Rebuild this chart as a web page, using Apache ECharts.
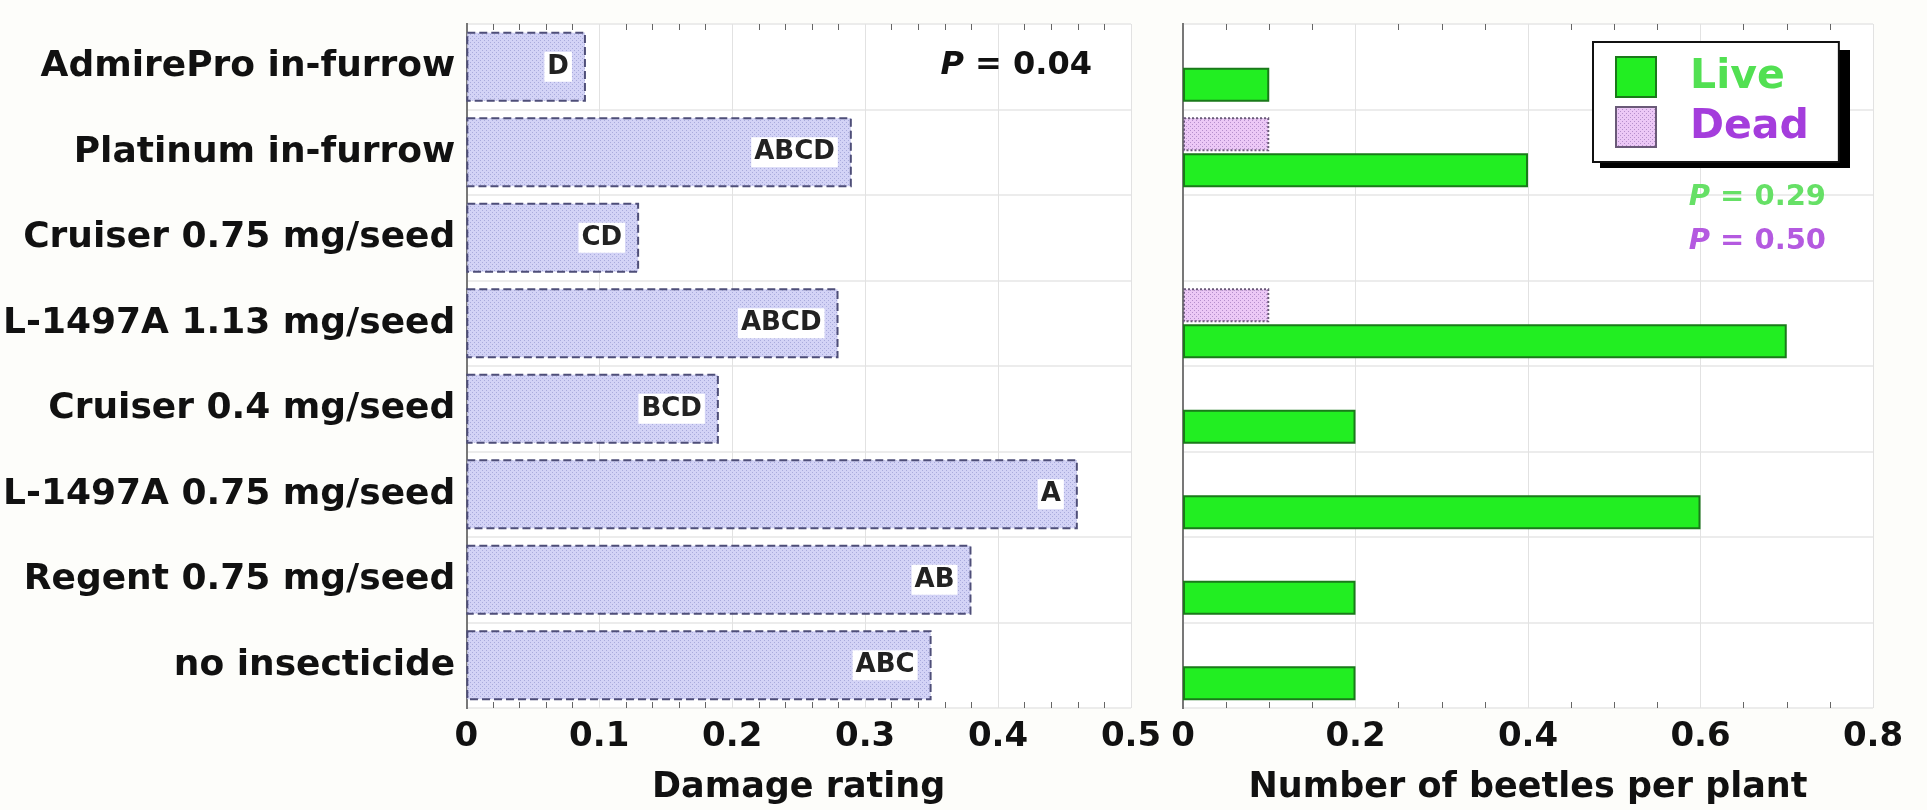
<!DOCTYPE html>
<html>
<head>
<meta charset="utf-8">
<script src="https://cdn.jsdelivr.net/npm/echarts@6/dist/echarts.min.js"></script>
<style>
html,body{margin:0;padding:0;background:#fdfdfa;}
#main{width:1927px;height:810px;}
</style>
</head>
<body>
<div id="main"></div>
<script>
var treatments = ['AdmirePro in-furrow', 'Platinum in-furrow', 'Cruiser 0.75 mg/seed', 'L-1497A 1.13 mg/seed',
                  'Cruiser 0.4 mg/seed', 'L-1497A 0.75 mg/seed', 'Regent 0.75 mg/seed', 'no insecticide'];
var damage = [0.09, 0.29, 0.13, 0.28, 0.19, 0.46, 0.38, 0.35];
var damageLetters = ['D', 'ABCD', 'CD', 'ABCD', 'BCD', 'A', 'AB', 'ABC'];
var beetlesDead = [0, 0.1, 0, 0.1, 0, 0, 0, 0];
var beetlesLive = [0.1, 0.4, 0, 0.7, 0.2, 0.6, 0.2, 0.2];
var damageTicks = [0, 0.1, 0.2, 0.3, 0.4, 0.5];
var beetleTicks = [0, 0.2, 0.4, 0.6, 0.8];

window.onload = function () {
  var chart = echarts.init(document.getElementById('main'));
  var FONT = 'DejaVu Sans';

  // small dotted fill, like the halftone in the scan
  function dots(base, dot) {
    var c = document.createElement('canvas');
    c.width = 4; c.height = 4;
    var g = c.getContext('2d');
    g.fillStyle = base; g.fillRect(0, 0, 4, 4);
    g.fillStyle = dot; g.fillRect(0, 0, 1, 1); g.fillRect(2, 2, 1, 1);
    return { image: c, repeat: 'repeat' };
  }

  // zero counts: keep the value but no outline sliver at the axis
  function noZeroEdge(arr) {
    return arr.map(function (v) {
      return v === 0 ? { value: v, itemStyle: { borderWidth: 0 } } : v;
    });
  }

  function xAxes(grid, ticks, minorSplit, title) {
    var step = ticks[1] - ticks[0];
    var base = { type: 'value', gridIndex: grid, min: ticks[0], max: ticks[ticks.length - 1], interval: step };
    return [
      Object.assign({}, base, {
        position: 'bottom',
        name: title, nameLocation: 'middle', nameGap: 62,
        nameTextStyle: { fontFamily: FONT, fontWeight: 'bold', fontSize: 35, color: '#111' },
        axisLine: { lineStyle: { color: '#777', width: 2 } },
        axisTick: { inside: true, length: 14, lineStyle: { color: '#666', width: 2 } },
        minorTick: { show: true, splitNumber: minorSplit, length: 6, lineStyle: { color: '#666' } },
        axisLabel: { fontFamily: FONT, fontWeight: 'bold', fontSize: 34, color: '#111', margin: 12,
                     formatter: function (v) { return String(+v.toFixed(2)); } },
        splitLine: { show: true, lineStyle: { color: '#e2e2e2', width: 1 } }
      }),
      Object.assign({}, base, {
        position: 'bottom',
        axisLine: { show: false },
        axisTick: { inside: false, length: 9, lineStyle: { color: '#666', width: 2 } },
        axisLabel: { show: false }, splitLine: { show: false }
      }),
      Object.assign({}, base, {
        position: 'top',
        axisLine: { lineStyle: { color: '#777', width: 2 } },
        axisTick: { inside: true, length: 16, lineStyle: { color: '#666', width: 2 } },
        minorTick: { show: true, splitNumber: minorSplit, length: 6, lineStyle: { color: '#666' } },
        axisLabel: { show: false }, splitLine: { show: false }
      }),
      Object.assign({}, base, {
        position: 'top',
        axisLine: { show: false },
        axisTick: { inside: false, length: 11, lineStyle: { color: '#666', width: 2 } },
        axisLabel: { show: false }, splitLine: { show: false }
      })
    ];
  }

  function yAxes(grid, labels) {
    return [
      {
        type: 'category', gridIndex: grid, data: treatments, inverse: true, position: 'left',
        axisLine: { lineStyle: { color: '#555', width: 2 } },
        axisTick: { inside: true, length: 6, lineStyle: { color: '#666' } },
        axisLabel: { show: labels, fontFamily: FONT, fontWeight: 'bold', fontSize: 36, color: '#111', margin: 11 },
        splitLine: { show: true, lineStyle: { color: '#e6e6e6', width: 1.5 } }
      },
      {
        type: 'category', gridIndex: grid, data: treatments, inverse: true, position: 'right',
        axisLine: { lineStyle: { color: '#777', width: 2 } },
        axisTick: { inside: true, length: 10, lineStyle: { color: '#666', width: 2 } },
        axisLabel: { show: false }, splitLine: { show: false }
      }
    ];
  }

  chart.setOption({
    animation: false,
    backgroundColor: '#fdfdfa',
    grid: [
      { left: 466, right: 796, top: 24, bottom: 94, show: true, backgroundColor: '#fff', borderWidth: 0 },
      { left: 1183, right: 54, top: 24, bottom: 102, show: true, backgroundColor: '#fff', borderWidth: 0 }
    ],
    xAxis: xAxes(0, damageTicks, 5, 'Damage rating').concat(xAxes(1, beetleTicks, 4, 'Number of beetles per plant')),
    yAxis: yAxes(0, true).concat(yAxes(1, false)),
    legend: {
      orient: 'vertical', left: 1593, top: 42,
      padding: [14, 30, 14, 22], itemWidth: 40, itemHeight: 40, itemGap: 8,
      icon: 'rect', selectedMode: false, z: 20,
      backgroundColor: '#fff', borderColor: '#111', borderWidth: 2,
      textStyle: { fontFamily: FONT, fontWeight: 'bold', fontSize: 41, padding: [0, 0, 0, 29] },
      data: [
        { name: 'Live', textStyle: { color: '#52e052' } },
        { name: 'Dead', textStyle: { color: '#a43ddc' } }
      ]
    },
    series: [
      {
        name: 'Damage', type: 'bar', xAxisIndex: 0, yAxisIndex: 0,
        data: damage, barWidth: '82%',
        itemStyle: { color: dots('#d3d3f6', '#a9abdc'), borderColor: '#4e4e78', borderWidth: 2, borderType: 'dashed' },
        label: {
          show: true, position: 'insideRight', distance: 14,
          formatter: function (p) { return damageLetters[p.dataIndex]; },
          fontFamily: FONT, fontWeight: 'bold', fontSize: 26, color: '#222',
          backgroundColor: '#fff', padding: [3, 3, 1, 3]
        }
      },
      {
        name: 'Dead', type: 'bar', xAxisIndex: 4, yAxisIndex: 2,
        data: noZeroEdge(beetlesDead), barWidth: 34, barGap: '6%',
        itemStyle: { color: dots('#ecc8f6', '#b58fcc'), borderColor: '#6a5a78', borderWidth: 2, borderType: 'dotted' }
      },
      {
        name: 'Live', type: 'bar', xAxisIndex: 4, yAxisIndex: 2,
        data: noZeroEdge(beetlesLive), barWidth: 34, barGap: '6%',
        itemStyle: { color: '#22ee22', borderColor: '#1a7a1a', borderWidth: 2 }
      }
    ],
    graphic: [
      // drop shadow behind the legend box
      { type: 'rect', left: 1600, top: 50, z: 15, shape: { width: 250, height: 118 }, style: { fill: '#000' } },
      {
        type: 'text', right: 1927 - 1092, top: 50, z: 30,
        style: {
          text: '{i|P} = 0.04', fill: '#111', font: 'bold 32px "DejaVu Sans"',
          rich: { i: { fontStyle: 'italic', fontWeight: 'bold', fontSize: 32, fontFamily: FONT, fill: '#111' } }
        }
      },
      {
        type: 'text', right: 1927 - 1826, top: 183, z: 30,
        style: {
          text: '{i|P} = 0.29', fill: '#66e066', font: 'bold 29px "DejaVu Sans"',
          rich: { i: { fontStyle: 'italic', fontWeight: 'bold', fontSize: 29, fontFamily: FONT, fill: '#66e066' } }
        }
      },
      {
        type: 'text', right: 1927 - 1826, top: 227, z: 30,
        style: {
          text: '{i|P} = 0.50', fill: '#b45ae0', font: 'bold 29px "DejaVu Sans"',
          rich: { i: { fontStyle: 'italic', fontWeight: 'bold', fontSize: 29, fontFamily: FONT, fill: '#b45ae0' } }
        }
      }
    ]
  });
};
</script>
</body>
</html>
